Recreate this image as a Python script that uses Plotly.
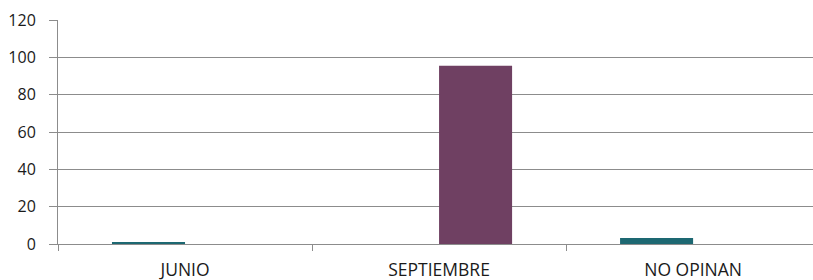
import plotly.graph_objects as go

categories = ["JUNIO", "SEPTIEMBRE", "NO OPINAN"]
serie1 = [1, None, 3.2]
serie2 = [None, 95.5, None]
y_ticks = [0, 20, 40, 60, 80, 100, 120]

fig = go.Figure()
fig.add_trace(go.Bar(x=categories, y=serie1, marker=dict(color="#1D6872", line=dict(width=0)), name="Serie 1"))
fig.add_trace(go.Bar(x=categories, y=serie2, marker=dict(color="#6F4062", line=dict(width=0)), name="Serie 2"))

grid = "#8C8C8C"
fig.update_layout(
    width=813, height=280,
    margin=dict(l=58, r=0, t=20, b=36, autoexpand=False),
    paper_bgcolor="white", plot_bgcolor="white",
    showlegend=False,
    barmode="group", bargap=0.425, bargroupgap=0,
    font=dict(family="Open Sans, Liberation Sans, sans-serif", size=16, color="#1a1a1a"),
)
fig.update_yaxes(
    range=[0, 120], tickvals=y_ticks, showgrid=True, gridcolor=grid, gridwidth=1,
    showline=True, linecolor=grid, linewidth=1,
    ticks="outside", ticklen=8, tickcolor=grid, ticklabelstandoff=10,
    zeroline=False, tickfont=dict(size=16), automargin=False,
)
fig.update_xaxes(
    range=[-0.5, 2.472], showline=True, linecolor=grid, linewidth=1,
    ticks="outside", tickson="boundaries", ticklen=6, tickcolor=grid,
    ticklabelstandoff=10, showgrid=False,
    tickfont=dict(size=17.5), automargin=False,
)
fig.write_html(
    "out.html",
    config={"displayModeBar": False},
    post_script="document.body.style.margin='0';document.body.style.overflow='hidden';",
)
